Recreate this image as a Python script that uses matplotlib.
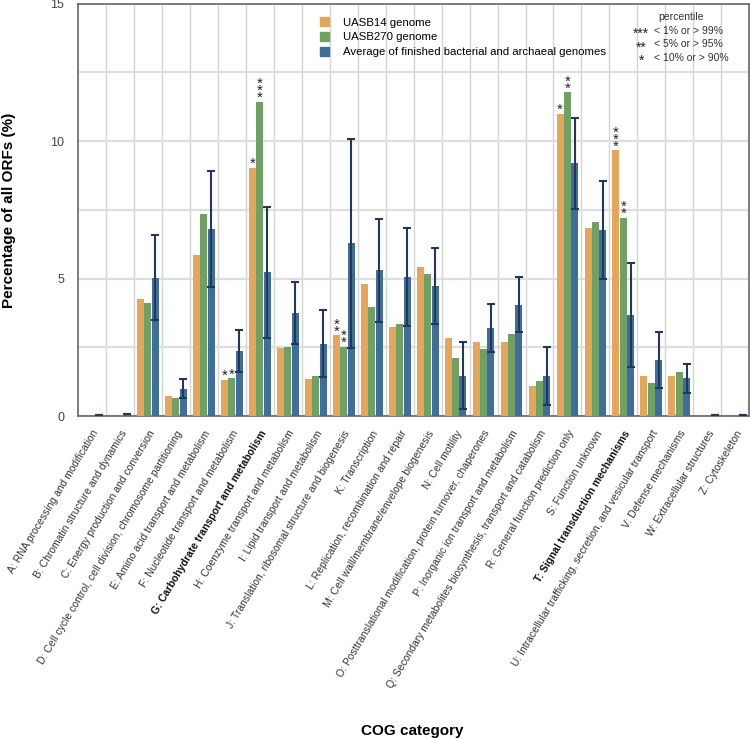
import numpy as np
import matplotlib
matplotlib.use('Agg')
from matplotlib import pyplot as plt
from matplotlib.patches import Patch

plt.rcParams['font.family'] = ['Liberation Sans', 'DejaVu Sans']

# COG categories and percentages of ORFs
categories = [
    'A: RNA processing and modification',
    'B: Chromatin structure and dynamics',
    'C: Energy production and conversion',
    'D: Cell cycle control, cell division, chromosome partitioning',
    'E: Amino acid transport and metabolism',
    'F: Nucleotide transport and metabolism',
    'G: Carbohydrate transport and metabolism',
    'H: Coenzyme transport and metabolism',
    'I: Lipid transport and metabolism',
    'J: Translation, ribosomal structure and biogenesis',
    'K: Transcription',
    'L: Replication, recombination and repair',
    'M: Cell wall/membrane/envelope biogenesis',
    'N: Cell motility',
    'O: Posttranslational modification, protein turnover, chaperones',
    'P: Inorganic ion transport and metabolism',
    'Q: Secondary metabolites biosynthesis, transport and catabolism',
    'R: General function prediction only',
    'S: Function unknown',
    'T: Signal transduction mechanisms',
    'U: Intracellular trafficking, secretion, and vesicular transport',
    'V: Defense mechanisms',
    'W: Extracellular structures',
    'Z: Cytoskeleton',
]
bold_cats = ['G', 'T']

uasb14 = [0, 0, 4.25, 0.72, 5.87, 1.32, 9.04, 2.48, 1.34, 2.94, 4.79, 3.23,
          5.42, 2.85, 2.68, 2.68, 1.09, 11.0, 6.84, 9.66, 1.47, 1.47, 0, 0]
uasb270 = [0, 0, 4.13, 0.64, 7.34, 1.37, 11.43, 2.50, 1.47, 2.52, 3.97, 3.34,
           5.18, 2.10, 2.44, 2.99, 1.27, 11.77, 7.07, 7.22, 1.19, 1.59, 0, 0]
average = [0.04, 0.06, 5.04, 0.99, 6.81, 2.37, 5.23, 3.75, 2.63, 6.29, 5.30, 5.06,
           4.72, 1.47, 3.20, 4.05, 1.46, 9.19, 6.77, 3.68, 2.04, 1.37, 0.03, 0.04]
average_sd = [0, 0, 1.53, 0.34, 2.10, 0.77, 2.38, 1.12, 1.21, 3.80, 1.87, 1.78,
              1.38, 1.23, 0.87, 1.01, 1.04, 1.67, 1.77, 1.89, 1.01, 0.53, 0, 0]

# percentile marks
stars14 = ['', '', '', '', '', '*', '*', '', '', '**', '', '', '',
           '', '', '', '', '*', '', '***', '', '', '', '']
stars270 = ['', '', '', '', '', '*', '***', '', '', '**', '', '', '',
            '', '', '', '', '**', '', '**', '', '', '', '']

series_names = ['UASB14 genome', 'UASB270 genome',
                'Average of finished bacterial and archaeal genomes']
colors = ['#E5A65B', '#6EA163', '#3F6E9D']
err_color = '#22375A'

fig = plt.figure(figsize=(7.5, 7.39), dpi=100)
ax = fig.add_axes([0.104, 0.437, 0.895, 0.558])

x = np.arange(len(categories))
w = 0.265
bw = 0.25

ax.bar(x - w, uasb14, bw, color=colors[0], zorder=3)
ax.bar(x, uasb270, bw, color=colors[1], zorder=3)
ax.bar(x + w, average, bw, color=colors[2], zorder=3,
       yerr=average_sd, ecolor=err_color,
       error_kw=dict(elinewidth=1.5, capsize=3, capthick=1.5, zorder=4))

# stars above bars
for i in range(len(categories)):
    for off, vals, st in [(-w, uasb14, stars14), (0, uasb270, stars270)]:
        if st[i]:
            ax.text(x[i] + off, vals[i] - 0.12, '\n'.join(st[i]),
                    ha='center', va='bottom', fontsize=11,
                    linespacing=0.36, color='#222222', zorder=5)

ax.set_xlim(-0.5, len(categories) - 0.5)
ax.set_ylim(0, 15)
ax.set_yticks([0, 5, 10, 15])
ax.set_yticks([2.5, 7.5, 12.5], minor=True)
ax.set_xticks(x)
ax.set_xticks(np.arange(0.5, len(categories) - 0.5), minor=True)
ax.set_xticklabels(categories, rotation=59, ha='right', rotation_mode='anchor',
                   fontsize=7.5, color='#333333')
for lab in ax.get_xticklabels():
    if lab.get_text()[0] in bold_cats:
        lab.set_fontweight('bold')
        lab.set_color('#111111')

ax.tick_params(axis='x', which='both', length=0, pad=9)
ax.tick_params(axis='y', which='both', length=0, pad=10, labelsize=9,
               labelcolor='#444444')

ax.grid(which='minor', axis='x', color='#d4d4d4', lw=1, zorder=0)
ax.grid(which='both', axis='y', color='#dedede', lw=1.6, zorder=0)
ax.grid(which='major', axis='x', visible=False)
for s in ax.spines.values():
    s.set_color('#666666')
    s.set_linewidth(1.2)

ax.set_ylabel('Percentage of all ORFs (%)', fontsize=11, fontweight='bold')
ax.yaxis.set_label_coords(-0.092, 0.5)
fig.text(0.549, 0.002, 'COG category', fontsize=11, fontweight='bold',
         ha='center', va='bottom')

handles = [Patch(color=c) for c in colors]
ax.legend(handles, series_names, loc='upper left', bbox_to_anchor=(0.345, 0.992),
          frameon=False, fontsize=8.2, handlelength=0.8, handleheight=0.8,
          handletextpad=1.2, labelspacing=0.4)

# percentile key
ax.text(0.899, 0.968, 'percentile', transform=ax.transAxes, fontsize=7.5,
        ha='center', va='center', color='#333333')
key = [('***', '< 1% or > 99%'), ('**', '< 5% or > 95%'), ('*', '< 10% or > 90%')]
for j, (st, txt) in enumerate(key):
    yy = 0.934 - j * 0.0325
    ax.text(0.839, yy - 0.008, st, transform=ax.transAxes, fontsize=10,
            ha='center', va='center', color='#222222')
    ax.text(0.858, yy, txt, transform=ax.transAxes, fontsize=7.5,
            ha='left', va='center', color='#333333')

fig.savefig('out.png', dpi=100)
